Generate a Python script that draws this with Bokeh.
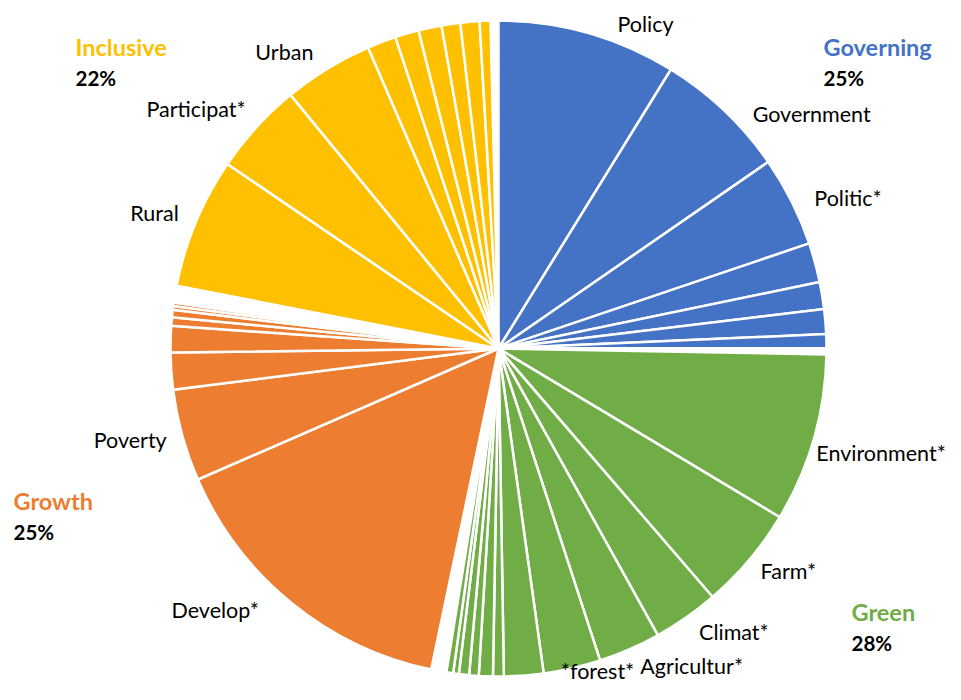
import math
from bokeh.plotting import figure
from bokeh.models import ColumnDataSource, Range1d
from bokeh.embed import file_html
from bokeh.resources import INLINE
from bokeh.core.properties import value

# ---- data: shares of the whole circle (percent), clockwise from 12 o'clock ----
governing_terms = ["Policy", "Government", "Politic*", "", "", "", "", ""]
governing_share = [8.81, 6.56, 4.44, 1.94, 1.33, 1.22, 0.69, 0.08]

green_terms = ["Environment*", "Farm*", "Climat*", "Agricultur*", "*forest*",
               "", "", "", "", "", "", ""]
green_share = [8.31, 5.08, 3.25, 3.06, 2.81, 1.94, 0.53, 0.69, 0.47, 0.50, 0.28, 0.33]

growth_terms = ["Develop*", "Poverty", "", "", "", "", "", "", ""]
growth_share = [15.17, 4.53, 1.82, 1.29, 0.42, 0.36, 0.19, 0.17, 0.11]

inclusive_terms = ["Rural", "Participat*", "Urban", "", "", "", "", "", ""]
inclusive_share = [6.44, 4.56, 4.42, 1.42, 1.17, 1.14, 0.92, 0.94, 0.53]

# blank (unfilled) shares that follow each group
gap_share = [0.22, 0.75, 0.72, 0.39]

group_names = ["Governing", "Green", "Growth", "Inclusive"]
group_pct = ["25%", "28%", "25%", "22%"]

# ---- styles / layout ----
group_colors = ["#4472C4", "#70AD47", "#ED7D31", "#FFC000"]
FONT = "Lato"
R = 328            # pie radius (px)
LABEL_R = 340      # radius where category labels are anchored
# small label nudges (px, screen direction: +x right, +y down)
label_nudge = {
    "Policy": (26, 3), "Government": (20, 12), "Politic*": (12, 2),
    "Environment*": (-9, 11), "Farm*": (2, 3), "Climat*": (6, 5),
    "Agricultur*": (6, 6), "*forest*": (-14, -9), "Develop*": (-25, -2),
    "Poverty": (-4, 1), "Rural": (-6, -5), "Participat*": (-2, -10),
    "Urban": (-8, -6),
}
# group title anchors (left edge x, centre y) relative to pie centre, px, screen coords
group_anchor = [(325, -302), (353, 263), (-485, 152), (-423, -302)]

groups = [
    (governing_terms, governing_share),
    (green_terms, green_share),
    (growth_terms, growth_share),
    (inclusive_terms, inclusive_share),
]
total = sum(sum(s) for _, s in groups) + sum(gap_share)

starts, ends, colors, mids, names = [], [], [], [], []
acc = 0.0
for gi, (terms, shares) in enumerate(groups):
    for t, s in zip(terms, shares):
        a0 = acc / total * 2 * math.pi          # clockwise from top
        acc += s
        a1 = acc / total * 2 * math.pi
        starts.append(math.pi / 2 - a1)        # bokeh: anticlockwise from +x
        ends.append(math.pi / 2 - a0)
        colors.append(group_colors[gi])
        mids.append((a0 + a1) / 2)
        names.append(t)
    acc += gap_share[gi]

src = ColumnDataSource(dict(start=starts, end=ends, color=colors))

p = figure(width=945, height=684, x_range=Range1d(-498, 447), y_range=Range1d(-336, 348),
           output_backend="svg", toolbar_location=None, min_border=0,
           outline_line_color=None, background_fill_color="white")
p.axis.visible = False
p.grid.visible = False

p.wedge(x=0, y=0, radius=R, start_angle="start", end_angle="end", source=src,
        fill_color="color", line_color="white", line_width=2.5)

# category labels
lx, ly, lt, rx, ry, rt = [], [], [], [], [], []
for t, m in zip(names, mids):
    if not t:
        continue
    dx, dy = label_nudge.get(t, (0, 0))
    x = LABEL_R * math.sin(m) + dx
    y = LABEL_R * math.cos(m) - dy
    if math.sin(m) >= 0:
        lx.append(x); ly.append(y); lt.append(t)
    else:
        rx.append(x); ry.append(y); rt.append(t)

p.text(x=lx, y=ly, text=lt, text_align="left", text_baseline="middle",
       text_font=value(FONT), text_font_size="21.5px", text_color="#000000")
p.text(x=rx, y=ry, text=rt, text_align="right", text_baseline="middle",
       text_font=value(FONT), text_font_size="21.5px", text_color="#000000")

# group titles and totals
gx = [a[0] for a in group_anchor]
gy = [-a[1] for a in group_anchor]
p.text(x=gx, y=gy, text=group_names, text_align="left", text_baseline="middle",
       text_font=value(FONT), text_font_size="23.5px", text_font_style="bold",
       text_color=group_colors)
p.text(x=gx, y=[v - 31 for v in gy], text=group_pct, text_align="left",
       text_baseline="middle", text_font=value(FONT), text_font_size="20.5px",
       text_font_style="bold", text_color="#000000")

open("out.html", "w").write(file_html(p, INLINE))
